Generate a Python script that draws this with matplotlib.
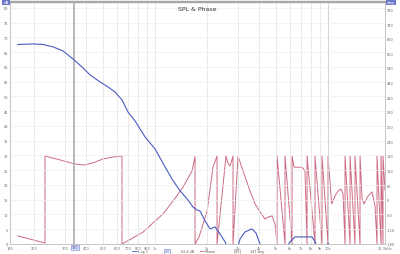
import numpy as np
import matplotlib
matplotlib.use("Agg")
import matplotlib.pyplot as plt
from matplotlib.ticker import FixedLocator, NullLocator
from matplotlib.lines import Line2D

# ---- data ----
spl_freq = [161, 197, 225, 257, 294, 340, 378, 421, 481, 535, 587, 644, 698, 766,
            819, 875, 1000, 1143, 1254, 1395, 1531, 1659, 1750, 1820, 1946, 2080,
            2222, 2376, 2540, 2642, 2823, 3018, 3100, 3313, 3637, 3837, 3940, 4153,
            4620, 5280, 5870, 6030, 6445, 7360, 8085, 8410, 8750, 9480, 10000,
            10550, 11730]
spl_db = [67.6, 67.8, 67.6, 66.8, 65.4, 62.4, 60.0, 57.3, 54.9, 53.2, 51.5, 48.8,
          44.7, 41.7, 39.0, 36.3, 32.2, 26.1, 22.0, 18.0, 15.3, 12.5, 11.5, 11.2,
          7.8, 5.1, 5.8, 3.4, 0.7, -1.7, -2.4, -0.7, 1.7, 4.1, 5.1, 3.7, 1.7, -1.7,
          -3.7, -2.4, -0.3, 0.7, 2.4, 2.4, 2.4, 0.7, -1.7, -1.7, 0.3, -1.7, -5.1]

# wrapped phase, pairs at the same frequency are the wrap jumps
phase_freq = [161, 231, 231, 282, 345, 394, 450, 500, 572, 644, 644, 746, 853, 1000,
              1112, 1271, 1452, 1636, 1703, 1703, 1796, 2000, 2164, 2282, 2282, 2572,
              2642, 2714, 2823, 2823, 3018, 3226, 3540, 3786, 4046, 4324, 4500, 4747,
              4939, 5073, 5073, 5641, 5641, 6194, 6194, 6360, 6710, 7075, 7360, 7565,
              7565, 8410, 8410, 9230, 9230, 10000, 10000, 10500, 10970, 11420, 11890,
              12210, 12540, 12540, 13410, 13410, 14320, 14320, 15310, 15310, 15730,
              16150, 17030, 17960, 18700, 19200, 19200, 20250, 20250, 20790, 20790,
              21350]
phase_deg = [-147, -176, 180, 164, 147, 143, 155, 168, 176, 180, -180, -155, -131,
             -86, -57, -4, 53, 119, 178, -180, -151, -45, 135, 180, -180, 180, 150,
             139, 180, -180, 180, 119, 37, -16, -49, -78, -70, -65, -98, -180, 180,
             -180, 180, -180, 180, 135, 134, 134, 120, -180, 180, -180, 180, -180,
             180, -180, 180, -16, 16, 37, 45, 25, -180, 180, -180, 180, -180, 180,
             -180, 180, 4, -16, 16, 33, -25, -180, 180, -180, 180, -180, 180, 40]

freq_ticks = [145, 200, 300, 400, 500, 600, 700, 800, 900, 1000, 2000, 3000, 4000,
              5000, 6000, 7000, 8000, 9000, 10000, 21350]
freq_labels = ["145", "200", "300", "400", "500", "600", "700", "800", "900", "1k",
               "2k", "3k", "4k", "5k", "6k", "7k", "8k", "9k", "10k", "21.3kHz"]
db_ticks = list(range(0, 85, 5))
deg_ticks = list(range(-180, 781, 60))
cursor_freq = 340

spl_color = "#4a5cc0"
phase_color = "#cc6a82"

fig = plt.figure(figsize=(4, 2.55), dpi=100)
ax = fig.add_axes([10 / 400, 10 / 255, 375 / 400, 242 / 255])
ax2 = ax.twinx()

ax.set_xscale("log")
ax.set_xlim(145, 21350)
ax.set_ylim(0, 82)
ax2.set_ylim(-180, 810)

# grid
for f in freq_ticks[1:-1]:
    c = "#cfcfcf" if f == 10000 else "#e6e6e6"
    ax.axvline(f, color=c, lw=0.6, zorder=0)
for d in db_ticks[1:]:
    ax.axhline(d, color="#efefef", lw=0.5, zorder=0)
ax.axvline(cursor_freq, color="#b4b4b4", lw=1.3, zorder=1)

ax2.plot(phase_freq, phase_deg, color=phase_color, lw=0.7)
ax.plot(spl_freq, spl_db, color=spl_color, lw=0.8, zorder=5)
ax.set_zorder(ax2.get_zorder() + 1)
ax.patch.set_visible(False)

ax.xaxis.set_major_locator(FixedLocator(freq_ticks))
ax.xaxis.set_minor_locator(NullLocator())
ax.set_xticklabels(freq_labels)
ax.set_yticks(db_ticks)
ax.set_yticklabels([str(d) for d in db_ticks])
ax2.set_yticks(deg_ticks)
ax2.set_yticklabels([str(d) for d in deg_ticks])

for a in (ax, ax2):
    a.tick_params(axis="both", which="both", length=0, pad=1.5, labelsize=2.5,
                  labelcolor="#666666")
    for name, sp in a.spines.items():
        sp.set_color("#c4c4c4")
        sp.set_linewidth(0.6)
    a.spines["top"].set_color("#a8a8a8")
    a.spines["top"].set_linewidth(1.6)

ax.set_title("SPL & Phase", fontsize=4.5, color="#333333", pad=-6, y=1.0)

# corner badges
fig.text(6 / 400, 252 / 255, "dB", fontsize=3, color="white", ha="center", va="center",
         bbox=dict(boxstyle="square,pad=0.2", fc="#6b78c8", ec="none"))
fig.text(391 / 400, 252 / 255, "deg", fontsize=3, color="white", ha="center",
         va="center", bbox=dict(boxstyle="square,pad=0.2", fc="#6b78c8", ec="none"))

# cursor value on x axis
fig.text(75 / 400, 6.5 / 255, "340", fontsize=2.6, color="#3a4cb0", ha="center",
         va="center", bbox=dict(boxstyle="square,pad=0.15", fc="#dde2f6", ec="#6b78c8",
                                lw=0.4))

# legend row
fig.add_artist(Line2D([132 / 400, 137 / 400], [3 / 255, 3 / 255], color=spl_color, lw=0.6))
fig.text(138 / 400, 3 / 255, "L sp 1", fontsize=2.4, color="#555555", va="center")
fig.text(167 / 400, 3 / 255, "0.0", fontsize=2.4, color="#3a4cb0", ha="center",
         va="center", bbox=dict(boxstyle="square,pad=0.15", fc="white", ec="#6b78c8",
                                lw=0.4))
fig.text(181 / 400, 3 / 255, "62.4 dB", fontsize=2.4, color="#555555", va="center")
fig.add_artist(Line2D([200 / 400, 205 / 400], [3 / 255, 3 / 255], color=phase_color,
                      lw=0.6))
fig.text(206 / 400, 3 / 255, "Phase", fontsize=2.4, color="#555555", va="center")
fig.text(237 / 400, 3 / 255, "0.0", fontsize=2.4, color="#555555", ha="center",
         va="center", bbox=dict(boxstyle="square,pad=0.15", fc="white", ec="#999999",
                                lw=0.4))
fig.text(250 / 400, 3 / 255, "147 deg", fontsize=2.4, color="#555555", va="center")

fig.savefig("out.png", dpi=100)
